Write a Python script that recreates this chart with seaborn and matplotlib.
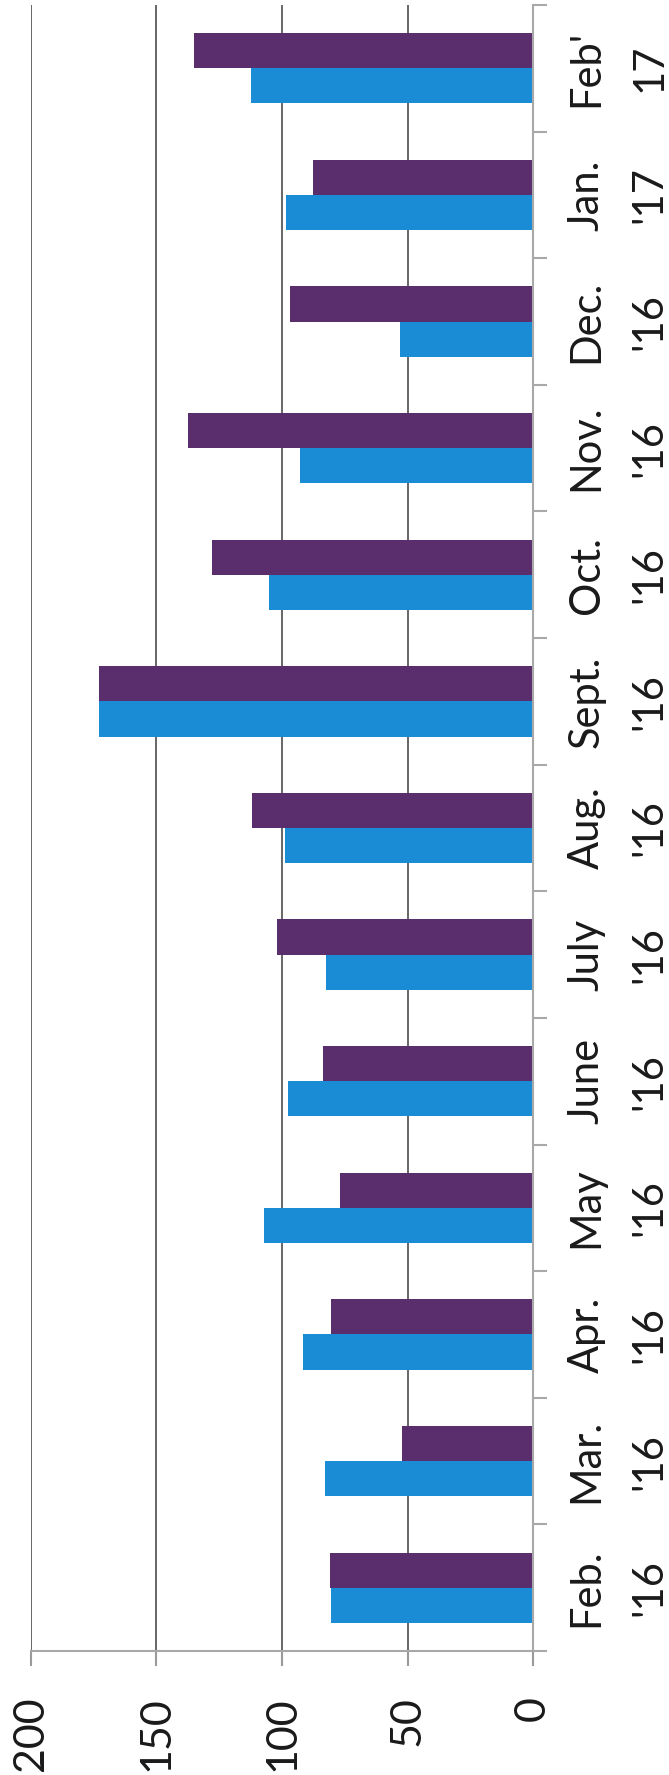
import matplotlib
matplotlib.use("Agg")
import matplotlib.pyplot as plt
import numpy as np
import pandas as pd
import seaborn as sns

# months, bottom (Feb '16) to top (Feb '17)
months = ["Feb.\n'16", "Mar.\n'16", "Apr.\n'16", "May\n'16", "June\n'16",
          "July\n'16", "Aug.\n'16", "Sept.\n'16", "Oct.\n'16", "Nov.\n'16",
          "Dec.\n'16", "Jan.\n'17", "Feb'\n17"]
blue_vals = [80.5, 83, 91.5, 107, 97.5, 82.5, 99, 173, 105, 93, 53, 98.5, 112.5]
purple_vals = [81, 52, 80.5, 77, 83.5, 102, 112, 173, 128, 137.5, 97, 87.5, 135]
value_ticks = [0, 50, 100, 150, 200]

df = pd.DataFrame({
    "month": months * 2,
    "value": blue_vals + purple_vals,
    "series": ["blue"] * len(months) + ["purple"] * len(months),
})

sns.set_style("white")
plt.rcParams["font.family"] = ["Lato", "DejaVu Sans"]

fig = plt.figure(figsize=(6.69, 17.75), dpi=100)
ax = fig.add_axes([31 / 669, 124 / 1775, 502 / 669, 1646 / 1775])

sns.barplot(data=df, y="month", x="value", hue="series", orient="h",
            palette=["#1a8bd5", "#5a2d6d"], saturation=1, width=0.555,
            order=months, hue_order=["blue", "purple"], legend=False,
            linewidth=0, ax=ax)

ax.set_xlim(200, 0)
ax.set_ylim(-0.5, len(months) - 0.5)
ax.set_xlabel("")
ax.set_ylabel("")

# value axis
ax.set_xticks(value_ticks)
ax.set_xticklabels([str(v) for v in value_ticks], rotation=90, ha="center", va="top")
ax.tick_params(axis="x", length=10.5, width=1.5, color="#9a9a9a", pad=22,
               labelsize=31, labelcolor="#1a1a1a", bottom=True)
ax.xaxis.grid(True, color="#666666", linewidth=1.4)
ax.set_axisbelow(True)

# category axis on the right
ax.yaxis.tick_right()
ax.set_yticks(range(len(months)))
ax.set_yticklabels(months, rotation=90, va="center", ha="left", ma="center")
ax.set_yticks(np.arange(-0.5, len(months), 1), minor=True)
ax.tick_params(axis="y", which="major", length=0, pad=25, labelsize=30,
               labelcolor="#1a1a1a")
ax.tick_params(axis="y", which="minor", length=10, width=1.5, color="#a8a8a8",
               right=True, left=False)
for lbl in ax.get_yticklabels():
    lbl.set_linespacing(1.8)

for side in ["top", "left"]:
    ax.spines[side].set_visible(False)
for side in ["bottom", "right"]:
    ax.spines[side].set_color("#a8a8a8")
    ax.spines[side].set_linewidth(1.5)

fig.savefig("out.png", dpi=100)
